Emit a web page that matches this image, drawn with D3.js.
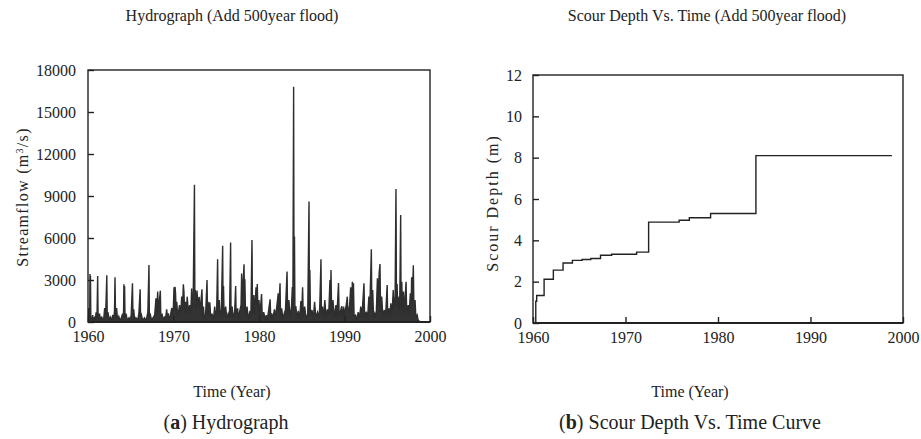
<!DOCTYPE html>
<html><head><meta charset="utf-8">
<script src="https://cdn.jsdelivr.net/npm/d3@7"></script>
<style>
body{margin:0;background:#fff}
svg{display:block}
text{font-family:"Liberation Serif","Times New Roman",serif;fill:#222}
</style>
</head><body>
<svg id="c" width="921" height="439"></svg>
<script>
// ---------- data ----------
const yearTicks = [1960, 1970, 1980, 1990, 2000];
const flowTicks = [0, 3000, 6000, 9000, 12000, 15000, 18000];
const depthTicks = [0, 2, 4, 6, 8, 10, 12];

const hydroYear = [
1960.00,1960.05,1960.10,1960.20,1960.23,1960.26,1960.29,1960.33,1960.45,1960.55,1960.62,1960.75,1960.85,1960.95,
1961.05,1961.13,1961.18,1961.25,1961.35,1961.45,1961.60,1961.70,1961.85,1961.95,
1962.05,1962.20,1962.25,1962.35,1962.45,1962.60,1962.75,1962.90,
1963.00,1963.10,1963.16,1963.22,1963.35,1963.45,1963.60,1963.75,1963.90,
1964.05,1964.15,1964.20,1964.25,1964.28,1964.33,1964.45,1964.60,1964.80,1964.95,
1965.05,1965.20,1965.26,1965.35,1965.45,1965.60,1965.80,1965.95,
1966.10,1966.15,1966.25,1966.40,1966.60,1966.80,
1967.00,1967.13,1967.18,1967.30,1967.45,1967.60,1967.80,1967.95,
1968.05,1968.15,1968.25,1968.35,1968.46,1968.52,1968.65,1968.80,1968.95,
1969.05,1969.20,1969.30,1969.40,1969.50,1969.65,1969.80,1969.95,
1970.06,1970.12,1970.18,1970.24,1970.30,1970.38,1970.50,1970.70,1970.85,1970.96,
1971.05,1971.15,1971.22,1971.30,1971.40,1971.50,1971.60,1971.75,1971.90,
1972.02,1972.12,1972.20,1972.30,1972.45,1972.50,1972.55,1972.65,1972.75,1972.85,
1973.00,1973.10,1973.33,1973.40,1973.50,1973.60,1973.75,1973.92,1973.98,
1974.05,1974.15,1974.25,1974.35,1974.50,1974.65,1974.82,1974.95,
1975.05,1975.16,1975.22,1975.35,1975.45,1975.60,1975.75,1975.80,1975.85,1975.92,
1976.10,1976.25,1976.40,1976.55,1976.68,1976.73,1976.85,
1977.00,1977.15,1977.27,1977.33,1977.50,1977.60,1977.75,1977.90,1977.97,
1978.05,1978.25,1978.30,1978.35,1978.42,1978.60,1978.75,1978.95,
1979.05,1979.18,1979.24,1979.40,1979.50,1979.65,1979.72,1979.80,1979.88,
1980.00,1980.10,1980.30,1980.38,1980.55,1980.75,1980.85,1980.95,
1981.10,1981.30,1981.38,1981.50,1981.60,1981.80,1981.95,
1982.10,1982.25,1982.30,1982.46,1982.52,1982.65,1982.80,1982.95,
1983.10,1983.28,1983.35,1983.50,1983.62,1983.80,1983.90,1983.96,
1984.05,1984.10,1984.15,1984.20,1984.30,1984.45,1984.60,1984.75,1984.90,
1985.00,1985.10,1985.18,1985.35,1985.50,1985.70,1985.85,1985.90,1985.95,
1986.02,1986.20,1986.35,1986.50,1986.65,1986.85,
1987.00,1987.10,1987.25,1987.30,1987.42,1987.55,1987.70,1987.85,
1988.00,1988.15,1988.30,1988.36,1988.42,1988.50,1988.65,1988.80,
1989.00,1989.10,1989.30,1989.38,1989.55,1989.67,1989.75,1989.90,
1990.00,1990.10,1990.20,1990.33,1990.40,1990.60,1990.72,1990.80,1990.92,1990.98,
1991.05,1991.12,1991.30,1991.45,1991.60,1991.75,1991.90,
1992.05,1992.28,1992.35,1992.55,1992.70,1992.85,1992.95,
1993.14,1993.20,1993.30,1993.40,1993.55,1993.70,1993.85,1993.95,
1994.05,1994.15,1994.22,1994.35,1994.50,1994.65,1994.80,1994.99,
1995.05,1995.20,1995.30,1995.42,1995.55,1995.70,1995.80,1995.92,
1996.02,1996.08,1996.15,1996.25,1996.38,1996.45,1996.57,1996.62,1996.70,1996.78,1996.90,
1997.00,1997.20,1997.28,1997.45,1997.55,1997.70,1997.80,1997.85,1997.92,
1998.05,1998.12,1998.25,1998.35,1998.50,1998.62,1998.75,1998.83
];
const hydroFlow = [
300,1000,200,400,3430,600,3290,300,150,500,100,300,100,700,
250,3290,400,150,600,100,400,100,300,1000,
200,3330,300,700,100,350,100,500,
150,800,3190,350,1000,150,400,100,300,
600,300,2690,1200,2570,300,600,100,300,100,
500,2760,400,900,100,300,100,600,
2330,300,500,100,300,100,
700,4070,300,500,100,300,500,1690,
700,2170,600,1500,2240,300,600,100,400,
100,900,300,620,100,500,1000,400,
2480,900,2520,2050,800,1450,300,1200,600,1810,
800,2690,2170,700,1450,500,1810,700,1200,
600,2400,1000,1500,9800,1500,2290,900,2240,1200,
1800,700,2330,400,1095,300,500,3000,500,
1450,400,1400,300,600,100,1095,300,
800,4480,500,1570,400,900,5450,800,2570,400,
1095,200,600,300,5670,400,1095,
300,700,2570,400,976,200,800,1200,3470,
1500,4120,1200,3050,500,1095,200,800,
400,5860,600,1930,500,2480,1200,2710,500,
1570,400,2000,300,700,100,500,100,
700,1620,200,620,100,900,400,
1200,2050,800,2760,300,976,200,600,
900,3600,500,1570,300,1100,2500,800,
16800,1500,6100,900,1140,300,800,200,1500,
700,2480,400,1095,200,600,8600,700,3710,
400,857,200,1450,300,700,
300,1000,4480,600,1095,300,1570,300,
900,500,3000,1200,3710,600,1570,300,
1214,300,2780,400,800,1140,300,1095,
500,857,1214,1810,500,1200,2480,700,2880,1000,
2760,400,500,100,700,300,1095,
500,2760,300,738,200,1810,700,
5190,900,2290,300,620,300,3120,1200,
3500,4140,700,1810,300,857,400,2640,
500,976,400,1333,500,2290,800,1800,
9500,1200,2710,600,1810,800,7640,900,2880,600,2170,
700,2880,500,1214,400,2048,1000,3190,1500,
4050,1000,1570,300,500,100,70,0
];

const scourYear  = [1960.0, 1960.3, 1960.4, 1961.2, 1962.2, 1963.25, 1964.26, 1965.3, 1966.25, 1967.3, 1968.5, 1971.2, 1972.5, 1975.8, 1976.9, 1979.2, 1984.1, 1998.8];
const scourDepth = [0,      1.05,   1.33,   2.12,   2.56,   2.90,    3.03,    3.07,   3.12,    3.28,   3.33,   3.43,   4.88,   4.97,   5.09,   5.30,   8.10,   8.10];

// ---------- drawing ----------
const svg = d3.select("#c");
const ink = "#222";
const serif = '"Liberation Serif","Times New Roman",serif';

function panel(o) {
  const x = d3.scaleLinear().domain([1960, 2000]).range([o.left, o.right]);
  const y = d3.scaleLinear().domain(o.yDomain).range([o.bottom, o.top]);
  const g = svg.append("g");

  g.append("text").attr("x", o.titleX).attr("y", 21).attr("text-anchor", "middle")
    .style("font-size", "16px").text(o.title);

  const clipId = "clip" + o.id;
  svg.append("clipPath").attr("id", clipId).append("rect")
    .attr("x", o.left).attr("y", o.top).attr("width", o.right - o.left).attr("height", o.bottom - o.top);
  if (o.fill) {
    const area = d3.area().x(d => x(d[0])).y0(y(0)).y1(d => y(d[1])).curve(o.curve);
    g.append("path").datum(o.data).attr("clip-path", `url(#${clipId})`)
      .attr("fill", o.fill).attr("stroke", "none").attr("d", area);
  }
  const line = d3.line().x(d => x(d[0])).y(d => y(d[1])).curve(o.curve);
  g.append("path").datum(o.data).attr("clip-path", `url(#${clipId})`)
    .attr("fill", "none").attr("stroke", o.stroke).attr("stroke-width", o.sw)
    .attr("stroke-linejoin", "miter").attr("d", line);

  const ya = g.append("g").attr("transform", `translate(${o.left},0)`)
    .call(d3.axisLeft(y).tickValues(o.yTicks).tickFormat(d3.format("d")).tickSizeInner(-6).tickSizeOuter(0).tickPadding(o.yPad));
  const xa = g.append("g").attr("transform", `translate(0,${o.bottom})`)
    .call(d3.axisBottom(x).tickValues(yearTicks).tickFormat(d3.format("d")).tickSizeInner(-6).tickSizeOuter(0).tickPadding(9));
  [ya, xa].forEach(a => {
    a.attr("font-family", serif).attr("font-size", 16);
    a.select(".domain").remove();
    a.selectAll("line").attr("stroke", ink).attr("stroke-width", 1.4);
    a.selectAll("text").attr("font-family", serif).attr("font-size", 16).attr("fill", ink);
  });

  g.append("rect").attr("x", o.left).attr("y", o.top).attr("width", o.right - o.left).attr("height", o.bottom - o.top)
    .attr("fill", "none").attr("stroke", ink).attr("stroke-width", 1.4);
  g.append("line").attr("x1", o.left).attr("x2", o.right).attr("y1", o.bottom).attr("y2", o.bottom)
    .attr("stroke", ink).attr("stroke-width", 2);

  const yl = g.append("text").attr("transform", `translate(${o.yLabelX},${(o.top + o.bottom) / 2 + o.yLabelDy}) rotate(-90)`)
    .attr("text-anchor", "middle").style("font-size", "16px").style("letter-spacing", o.ls + "px");
  o.yLabel(yl);

  g.append("text").attr("x", (o.left + o.right) / 2 + o.xLabelDx).attr("y", 397).attr("text-anchor", "middle")
    .style("font-size", "16px").text("Time (Year)");

  const cap = g.append("text").attr("x", (o.left + o.right) / 2 + o.capDx).attr("y", 429).attr("text-anchor", "middle")
    .style("font-size", "20px");
  cap.append("tspan").text("(");
  cap.append("tspan").style("font-weight", "bold").text(o.capLetter);
  cap.append("tspan").text(") " + o.caption);
}

panel({
  id: "a", left: 88, right: 430, top: 70, bottom: 322,
  yDomain: [0, 18000], yTicks: flowTicks, yPad: 12,
  title: "Hydrograph (Add 500year flood)", titleX: 232,
  data: hydroYear.map((t, i) => [t, hydroFlow[i]]),
  curve: d3.curveLinear, stroke: "#2e2e2e", sw: 1.4, fill: "#333",
  yLabelX: 28, yLabelDy: 1, ls: 1.3,
  yLabel: t => {
    t.append("tspan").text("Streamflow (m");
    t.append("tspan").attr("baseline-shift", "super").style("font-size", "10px").text("3");
    t.append("tspan").text("/s)");
  },
  xLabelDx: -27, capDx: -33, capLetter: "a", caption: "Hydrograph"
});

panel({
  id: "b", left: 533, right: 903, top: 75, bottom: 323,
  yDomain: [0, 12], yTicks: depthTicks, yPad: 11,
  title: "Scour Depth Vs. Time (Add 500year flood)", titleX: 707,
  data: scourYear.map((t, i) => [t, scourDepth[i]]),
  curve: d3.curveStepAfter, stroke: "#222", sw: 1.4, fill: null,
  yLabelX: 498, yLabelDy: 4, ls: 2,
  yLabel: t => t.text("Scour Depth (m)"),
  xLabelDx: -28, capDx: -28, capLetter: "b", caption: "Scour Depth Vs. Time Curve"
});
</script>
</body></html>
